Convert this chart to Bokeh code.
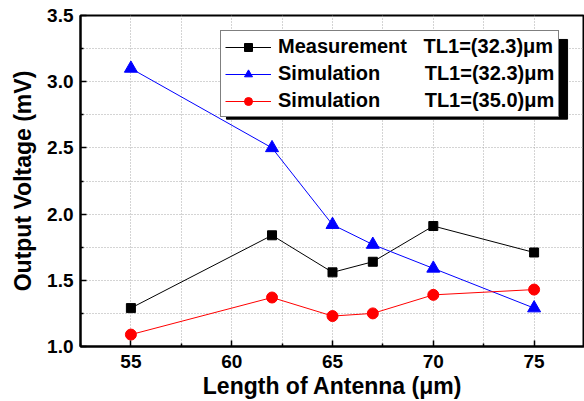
from bokeh.plotting import figure
from bokeh.models import Range1d, FixedTicker, Legend, LegendItem, BoxAnnotation, NumeralTickFormatter
from bokeh.embed import file_html
from bokeh.resources import INLINE

# ---- data ----
antenna_length = [55, 62, 65, 67, 70, 75]
measurement_323 = [1.29, 1.84, 1.56, 1.64, 1.91, 1.71]
simulation_323 = [3.10, 2.50, 1.92, 1.77, 1.59, 1.29]
simulation_350 = [1.09, 1.37, 1.23, 1.25, 1.39, 1.43]
series_names = ["Measurement", "Simulation", "Simulation"]
series_tl = ["TL1=(32.3)\u03bcm", "TL1=(32.3)\u03bcm", "TL1=(35.0)\u03bcm"]
x_ticks = [55, 60, 65, 70, 75]
x_minor = [52.5, 57.5, 62.5, 67.5, 72.5, 77.5]
y_ticks = [1.0, 1.5, 2.0, 2.5, 3.0, 3.5]
y_minor = [1.25, 1.75, 2.25, 2.75, 3.25]

FONT = "Liberation Sans"
NB = "\u00a0"
pads = [3, 8, 8]
legend_labels = [series_names[i] + NB * pads[i] + series_tl[i] for i in range(3)]

p = figure(width=584, height=401, output_backend="svg", toolbar_location=None,
           x_range=Range1d(52.5, 77.5), y_range=Range1d(1.0, 3.5),
           min_border_left=80, min_border_right=0, min_border_top=15, min_border_bottom=54)
p.background_fill_color = "white"
p.border_fill_color = "white"
p.outline_line_color = "black"
p.outline_line_width = 2

p.xaxis.ticker = FixedTicker(ticks=x_ticks, minor_ticks=x_minor)
p.yaxis.ticker = FixedTicker(ticks=y_ticks, minor_ticks=y_minor)
p.yaxis.formatter = NumeralTickFormatter(format="0.0")

for ax in (p.xaxis, p.yaxis):
    ax.axis_line_width = 2
    ax.axis_line_color = "black"
    ax.major_tick_in = 6
    ax.major_tick_out = 0
    ax.minor_tick_in = 3
    ax.minor_tick_out = 0
    ax.major_tick_line_width = 1.5
    ax.minor_tick_line_width = 1.5
    ax.major_tick_line_color = "black"
    ax.minor_tick_line_color = "black"
    ax.major_label_text_font = FONT
    ax.major_label_text_font_style = "bold"
    ax.major_label_text_font_size = "19px"
    ax.major_label_text_color = "black"
    ax.axis_label_text_font = FONT
    ax.axis_label_text_font_style = "bold"
    ax.axis_label_text_font_size = "23px"
    ax.axis_label_text_color = "black"

p.xaxis.major_label_standoff = 8
p.yaxis.major_label_standoff = 7
p.xaxis.axis_label = "Length of Antenna (\u03bcm)"
p.yaxis.axis_label = "Output Voltage (mV)"
p.xaxis.axis_label_standoff = 2
p.yaxis.axis_label_standoff = 8

for g in (p.xgrid, p.ygrid):
    g.grid_line_color = "#a8a8a8"
    g.grid_line_dash = "1 2"
    g.grid_line_width = 1
    g.minor_grid_line_color = "#a8a8a8"
    g.minor_grid_line_dash = "1 2"
    g.minor_grid_line_width = 1

# ---- series ----
l1 = p.line(antenna_length, measurement_323, line_color="black", line_width=1)
m1 = p.scatter(antenna_length, measurement_323, marker="square", size=9,
               fill_color="black", line_color="black")
l2 = p.line(antenna_length, simulation_323, line_color="blue", line_width=1)
m2 = p.scatter(antenna_length, simulation_323, marker="triangle", size=13,
               fill_color="blue", line_color="blue")
l3 = p.line(antenna_length, simulation_350, line_color="red", line_width=1)
m3 = p.scatter(antenna_length, simulation_350, marker="circle", size=11,
               fill_color="red", line_color="red")

# ---- legend shadow ----
shadow = BoxAnnotation(left=59.74, right=76.66, top=3.319, bottom=2.717,
                       fill_color="black", fill_alpha=1.0, line_color="black", line_alpha=1.0)
p.add_layout(shadow)

legend = Legend(items=[
    LegendItem(label=legend_labels[0], renderers=[l1, m1]),
    LegendItem(label=legend_labels[1], renderers=[l2, m2]),
    LegendItem(label=legend_labels[2], renderers=[l3, m3]),
], location=(140, 229))
legend.label_text_font = FONT
legend.label_text_font_style = "bold"
legend.label_text_font_size = "20px"
legend.label_text_color = "black"
legend.label_width = 276
legend.label_height = 20
legend.glyph_width = 46
legend.glyph_height = 20
legend.label_standoff = 7
legend.spacing = 4
legend.padding = 4
legend.margin = 0
legend.border_line_color = "black"
legend.border_line_width = 1
legend.background_fill_color = "white"
legend.background_fill_alpha = 1.0
p.add_layout(legend, "center")

open("out.html", "w").write(file_html(p, INLINE))
